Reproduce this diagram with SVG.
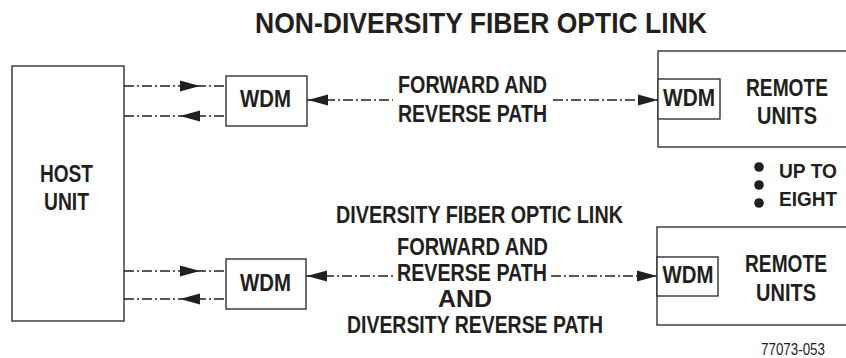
<svg xmlns="http://www.w3.org/2000/svg" width="846" height="358" viewBox="0 0 846 358">
<defs>
<style>
.b{fill:#fff;stroke:#333;stroke-width:1.4}
.t{font-family:"Liberation Sans",Arial,sans-serif;font-weight:bold;fill:#231f20;text-anchor:middle}
.s{font-size:23px}
.l{text-anchor:start;font-size:21px}
.c{fill:none;stroke:#231f20;stroke-width:1.3;stroke-dasharray:10 3 2 3}
.a{fill:#231f20}
</style>
</defs>
<rect width="846" height="358" fill="#fff"/>
<text class="t" x="481" y="33" font-size="30" textLength="452" lengthAdjust="spacingAndGlyphs">NON-DIVERSITY FIBER OPTIC LINK</text>
<g id="host"><rect class="b" x="12" y="66" width="112" height="255"/>
<text class="t" font-size="24" x="66.5" y="182" textLength="53" lengthAdjust="spacingAndGlyphs">HOST</text>
<text class="t" font-size="24" x="66.5" y="210" textLength="45" lengthAdjust="spacingAndGlyphs">UNIT</text></g>
<g id="wdm1"><rect class="b" x="226" y="76" width="81" height="50"/>
<text class="t s" x="265.5" y="107" textLength="51" lengthAdjust="spacingAndGlyphs">WDM</text></g>
<g id="wdm2"><rect class="b" x="226" y="259" width="80" height="50"/>
<text class="t s" x="265.5" y="291" textLength="51" lengthAdjust="spacingAndGlyphs">WDM</text></g>
<g id="remote1"><rect class="b" x="658" y="51" width="190" height="96"/><rect class="b" x="658" y="79" width="62" height="40"/>
<text class="t s" x="689" y="106" textLength="52" lengthAdjust="spacingAndGlyphs">WDM</text>
<text class="t s" x="787" y="96" textLength="82" lengthAdjust="spacingAndGlyphs">REMOTE</text>
<text class="t s" x="787" y="124" textLength="60" lengthAdjust="spacingAndGlyphs">UNITS</text></g>
<g id="remote2"><rect class="b" x="657" y="227" width="191" height="98"/><rect class="b" x="657" y="257" width="61" height="39"/>
<text class="t s" x="688" y="283" textLength="51" lengthAdjust="spacingAndGlyphs">WDM</text>
<text class="t s" x="786" y="272" textLength="82" lengthAdjust="spacingAndGlyphs">REMOTE</text>
<text class="t s" x="786" y="301" textLength="60" lengthAdjust="spacingAndGlyphs">UNITS</text></g>
<g id="labels">
<text class="t s" x="472.5" y="93" textLength="149" lengthAdjust="spacingAndGlyphs">FORWARD AND</text>
<text class="t s" x="472.5" y="122" textLength="149" lengthAdjust="spacingAndGlyphs">REVERSE PATH</text>
<text class="t s" x="479.5" y="223" textLength="287" lengthAdjust="spacingAndGlyphs">DIVERSITY FIBER OPTIC LINK</text>
<text class="t s" x="472.5" y="255" textLength="151" lengthAdjust="spacingAndGlyphs">FORWARD AND</text>
<text class="t s" x="472" y="281" textLength="150" lengthAdjust="spacingAndGlyphs">REVERSE PATH</text>
<text class="t s" x="465" y="307" textLength="54" lengthAdjust="spacingAndGlyphs">AND</text>
<text class="t s" x="475" y="333" textLength="256" lengthAdjust="spacingAndGlyphs">DIVERSITY REVERSE PATH</text>
<circle class="a" cx="759" cy="167" r="4.8"/><circle class="a" cx="759" cy="185" r="4.8"/><circle class="a" cx="759" cy="203" r="4.8"/>
<text class="t l" x="779" y="178" textLength="58" lengthAdjust="spacingAndGlyphs">UP TO</text>
<text class="t l" x="779" y="206" textLength="58" lengthAdjust="spacingAndGlyphs">EIGHT</text>
<text x="761" y="355" font-family="'Liberation Sans',Arial,sans-serif" font-size="16" fill="#231f20" textLength="64" lengthAdjust="spacingAndGlyphs">77073-053</text>
</g>
<g id="connectors">
<path class="c" d="M124 86H226M124 116H226M307 100H393M553 100H658M306 276H395M551 276H657M124 271H226M124 299H226"/>
<path class="a" d="M200 86l-20-5.5v11zM180 116l20-5.5v11zM200 271l-20-5.5v11zM180 299l20-5.5v11zM308 100l20-5.5v11zM658 100l-20-5.5v11zM307 276l20-5.5v11zM657 276l-20-5.5v11z"/>
</g>
</svg>
